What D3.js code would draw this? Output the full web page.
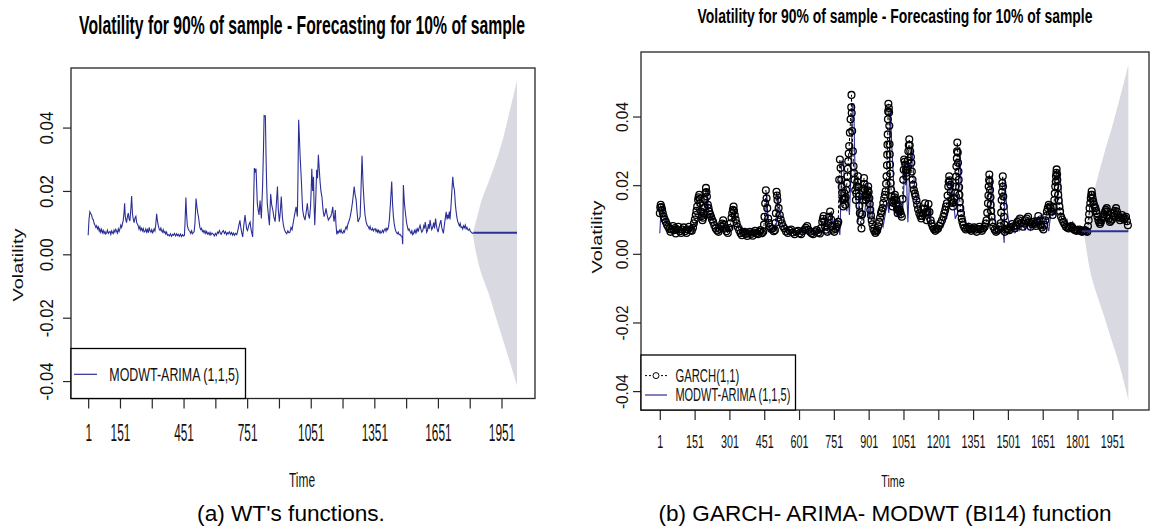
<!DOCTYPE html>
<html><head><meta charset="utf-8">
<script src="https://cdn.jsdelivr.net/npm/d3@7"></script>
<style>body{margin:0;background:#fff}svg{display:block}</style>
</head><body>
<svg id="c" width="1156" height="531"></svg>
<script>
// ---------------- data ----------------
const titleText = "Volatility for 90% of sample - Forecasting for 10% of sample";
const xTicks = [1,151,301,451,601,751,901,1051,1201,1351,1501,1651,1801,1951];
const leftXLabels = ["1","151","","451","","751","","1051","","1351","","1651","","1951"];
const rightXLabels = ["1","151","301","451","601","751","901","1051","1201","1351","1501","1651","1801","1951"];
const yTicks = [-0.04,-0.02,0,0.02,0.04];
const yLabels = ["-0.04","-0.02","0.00","0.02","0.04"];
const xDomain = [-80, 2109];
const yDomain = [-0.0455, 0.0588];

// MODWT-ARIMA(1,1,5) fitted volatility [time, value]
const modwtPoints = [[1,.006],[5,.011],[9,.0134],[13,.0128],[17,.0125],[21,.0112],[25,.011],[29,.0098],[33,.0092],[37,.0085],[41,.009],[45,.008],[49,.0086],[53,.0074],[56,.008],[60,.007],[64,.0079],[68,.0068],[72,.0075],[76,.0066],[80,.0072],[84,.0064],[88,.0068],[92,.0076],[96,.0066],[100,.007],[104,.0072],[108,.0063],[112,.0074],[116,.0068],[119,.0065],[123,.0076],[127,.007],[131,.0079],[135,.0073],[139,.0067],[143,.008],[147,.0072],[151,.008],[155,.0092],[159,.0085],[163,.0098],[166,.0105],[170,.013],[173,.0161],[176,.012],[179,.0108],[182,.01],[186,.0118],[190,.013],[194,.0112],[198,.0105],[202,.014],[206,.0184],[210,.0128],[214,.011],[218,.01],[222,.0115],[226,.012],[230,.01],[234,.0095],[237,.009],[241,.008],[245,.0088],[249,.0076],[253,.0082],[257,.0074],[261,.0081],[265,.007],[269,.0072],[273,.008],[277,.007],[281,.0078],[285,.0068],[289,.0085],[293,.0074],[297,.007],[301,.0078],[305,.0068],[308,.0072],[312,.008],[316,.0074],[320,.0095],[324,.0128],[328,.0105],[332,.009],[336,.008],[340,.0076],[344,.0083],[347,.0075],[351,.007],[355,.0078],[359,.0068],[363,.0072],[367,.0064],[371,.007],[375,.006],[379,.0062],[384,.0058],[389,.0065],[394,.0057],[399,.0063],[403,.006],[408,.0066],[413,.0058],[418,.0065],[422,.0059],[426,.0063],[431,.0057],[436,.0064],[441,.0056],[446,.0062],[450,.0058],[455,.006],[458,.01],[462,.0179],[465,.013],[469,.009],[473,.008],[477,.0075],[481,.0072],[485,.0066],[489,.0074],[493,.0065],[497,.0068],[501,.0072],[505,.01],[510,.0176],[514,.015],[518,.013],[521,.012],[525,.01],[528,.0085],[532,.0078],[536,.0082],[540,.0072],[544,.0075],[548,.0068],[552,.0074],[556,.0066],[560,.0072],[564,.0064],[568,.0068],[572,.0062],[576,.0069],[580,.0061],[585,.0067],[591,.0064],[596,.0058],[601,.0066],[606,.006],[611,.007],[615,.0066],[620,.0075],[624,.0068],[628,.0063],[633,.007],[639,.0075],[644,.0066],[649,.0072],[654,.0062],[658,.0068],[662,.0065],[667,.0071],[672,.0063],[677,.0069],[682,.0061],[686,.0067],[691,.006],[696,.0066],[702,.0062],[707,.0075],[712,.0092],[717,.0107],[721,.0085],[725,.007],[730,.0055],[735,.009],[741,.0124],[745,.01],[749,.008],[753,.0075],[758,.009],[762,.0098],[765,.0102],[769,.008],[773,.0068],[777,.0055],[781,.015],[785,.0272],[789,.0262],[793,.027],[799,.016],[803,.014],[807,.0124],[812,.017],[818,.0113],[824,.0219],[828,.033],[831,.0438],[837,.0437],[840,.0314],[843,.022],[846,.016],[851,.0125],[856,.0092],[862,.019],[867,.0155],[872,.014],[877,.0118],[883,.0103],[888,.015],[894,.0214],[898,.014],[903,.0103],[908,.014],[912,.0182],[917,.012],[922,.0092],[927,.0078],[932,.007],[938,.0065],[943,.0074],[948,.0068],[953,.007],[958,.0085],[963,.0078],[969,.0102],[975,.0125],[982,.015],[988,.0119],[991,.025],[994,.0425],[998,.036],[1001,.0309],[1007,.023],[1010,.018],[1013,.014],[1018,.012],[1024,.0108],[1030,.0135],[1035,.0161],[1040,.0125],[1045,.0113],[1050,.015],[1053,.02],[1056,.027],[1060,.02],[1064,.0245],[1067,.015],[1070,.0092],[1075,.018],[1079,.0267],[1083,.024],[1087,.0314],[1091,.027],[1095,.023],[1099,.02],[1104,.018],[1109,.014],[1114,.0119],[1119,.013],[1123,.0145],[1128,.0125],[1134,.0108],[1140,.0115],[1145,.0119],[1150,.013],[1155,.015],[1158,.012],[1161,.0103],[1164,.012],[1167,.014],[1170,.0095],[1174,.0063],[1178,.0072],[1182,.0068],[1186,.0076],[1190,.007],[1194,.0078],[1198,.0068],[1202,.0066],[1206,.0074],[1210,.007],[1214,.008],[1218,.0087],[1222,.008],[1226,.0095],[1230,.0102],[1236,.0115],[1243,.014],[1249,.017],[1256,.0214],[1260,.019],[1265,.0172],[1270,.013],[1274,.0102],[1279,.011],[1284,.0119],[1288,.02],[1293,.0311],[1298,.022],[1303,.0161],[1307,.0125],[1312,.0103],[1317,.0092],[1323,.0087],[1327,.008],[1331,.0088],[1335,.0078],[1339,.0076],[1343,.0082],[1347,.0074],[1351,.0079],[1355,.0081],[1359,.0072],[1363,.0078],[1366,.007],[1370,.0076],[1374,.0068],[1378,.0074],[1382,.0067],[1386,.007],[1390,.0076],[1394,.0069],[1398,.0077],[1402,.0081],[1406,.0073],[1410,.0082],[1414,.0078],[1418,.0087],[1422,.011],[1427,.016],[1433,.023],[1437,.016],[1441,.0119],[1445,.0095],[1449,.0081],[1453,.0072],[1456,.0068],[1460,.0065],[1464,.007],[1468,.0062],[1473,.0063],[1477,.0058],[1482,.0057],[1485,.0032],[1488,.0219],[1493,.016],[1498,.0129],[1503,.01],[1507,.0087],[1511,.0076],[1515,.008],[1520,.0071],[1524,.0066],[1528,.0074],[1532,.0062],[1536,.0066],[1540,.0075],[1544,.0068],[1548,.0078],[1551,.007],[1555,.008],[1559,.0074],[1563,.0085],[1567,.0092],[1571,.0078],[1575,.007],[1580,.0076],[1584,.009],[1588,.0082],[1591,.0102],[1595,.0085],[1598,.007],[1602,.0076],[1606,.0095],[1610,.008],[1614,.0108],[1618,.009],[1622,.0078],[1627,.0087],[1631,.01],[1635,.0082],[1640,.0113],[1644,.009],[1648,.0078],[1652,.007],[1656,.0085],[1660,.0096],[1665,.0108],[1669,.0085],[1673,.0075],[1677,.0066],[1681,.009],[1686,.0115],[1690,.0134],[1694,.011],[1698,.0125],[1701,.0113],[1705,.0135],[1708,.011],[1712,.0145],[1716,.019],[1721,.0245],[1725,.0215],[1729,.0203],[1733,.016],[1737,.0134],[1741,.0115],[1744,.0105],[1748,.0097],[1752,.009],[1756,.0098],[1760,.0085],[1764,.0087],[1768,.008],[1772,.009],[1776,.0084],[1780,.0092],[1784,.008],[1788,.0085],[1792,.0078],[1795,.0076],[1800,.008],[1804,.0072],[1808,.007],[1811,.0068],[1815,.0066],[1819,.0068]];

// point forecast
const forecastLeft = [[1819,0.0068],[2024,0.0068]];
const forecastRight = [[1819,0.0066],[2020,0.0066]];

// forecast interval band
const bandTimeLeft  = [1815,1836,1853,1888,1923,1958,1993,2024];
const bandUpperLeft = [0.0064,0.0118,0.0161,0.0225,0.029,0.0365,0.0462,0.0548];
const bandLowerLeft = [0.0064,-0.0011,-0.0055,-0.0119,-0.0195,-0.027,-0.0345,-0.0415];
const bandTimeRight  = [1829,1853,1885,1917,1948,1980,2020];
const bandUpperRight = [0.006,0.0127,0.0215,0.0295,0.0365,0.0445,0.0551];
const bandLowerRight = [0.006,-0.0042,-0.012,-0.0185,-0.0252,-0.032,-0.0426];

// GARCH(1,1) volatility [time, value]
const garchPoints = [[1,.0118],[3,.0135],[5,.0143],[8,.0136],[11,.0128],[14,.0118],[18,.0108],[22,.01],[27,.0093],[32,.0085],[37,.0079],[42,.0072],[47,.0064],[52,.0071],[58,.0081],[63,.0069],[67,.0075],[70,.0059],[75,.0071],[81,.0079],[87,.0066],[93,.0061],[98,.0071],[104,.0077],[110,.0066],[116,.0061],[121,.0071],[127,.0079],[133,.0069],[139,.0067],[144,.0076],[148,.0089],[152,.01],[156,.0113],[159,.0125],[162,.0138],[166,.0157],[168,.0165],[171,.0172],[173,.016],[175,.0147],[179,.0123],[182,.011],[185,.0098],[188,.0105],[191,.0118],[193,.0135],[195,.0157],[198,.0178],[200,.0192],[202,.018],[204,.0167],[208,.0143],[211,.0133],[214,.0123],[218,.0115],[222,.0108],[226,.01],[231,.0093],[236,.0083],[242,.0074],[248,.0068],[254,.0064],[260,.0072],[266,.0079],[270,.0088],[274,.0098],[278,.0085],[283,.0074],[288,.0066],[294,.0061],[300,.0075],[306,.0089],[310,.0105],[313,.0118],[316,.0128],[319,.0138],[321,.0125],[324,.0113],[328,.01],[332,.0089],[337,.0078],[343,.0069],[349,.006],[355,.0054],[360,.0062],[366,.0064],[372,.0058],[378,.0052],[383,.006],[389,.0064],[395,.0058],[401,.0053],[406,.0062],[412,.0067],[418,.006],[424,.0057],[430,.0064],[435,.0069],[441,.006],[447,.0064],[450,.0085],[452,.0108],[455,.0147],[458,.0185],[461,.0162],[464,.0133],[468,.0103],[471,.009],[475,.0079],[481,.0072],[487,.0074],[492,.0066],[497,.0069],[499,.009],[501,.0118],[504,.0181],[506,.017],[508,.0157],[513,.0133],[518,.0113],[522,.01],[527,.0089],[532,.008],[538,.0074],[545,.0065],[553,.0061],[560,.0068],[567,.0071],[574,.0062],[582,.0057],[589,.0064],[596,.0067],[603,.006],[610,.0057],[617,.0066],[625,.0071],[630,.0076],[636,.0081],[642,.007],[648,.0064],[655,.006],[662,.0057],[670,.0065],[677,.0069],[684,.0062],[691,.0059],[696,.0075],[701,.0093],[704,.0102],[707,.011],[710,.0095],[714,.0079],[718,.007],[723,.0064],[727,.009],[730,.0108],[735,.0123],[739,.01],[743,.0079],[748,.007],[753,.0064],[758,.0072],[763,.0079],[767,.0086],[770,.0093],[774,.0216],[777,.0275],[780,.025],[783,.0216],[785,.0195],[787,.0177],[789,.0158],[791,.0138],[794,.016],[796,.0177],[798,.016],[800,.0143],[802,.0165],[804,.0186],[807,.0205],[809,.0226],[811,.0248],[813,.027],[815,.0292],[817,.0314],[820,.0353],[823,.0392],[826,.0427],[827,.0463],[828,.041],[830,.0358],[833,.0299],[836,.0255],[838,.0235],[840,.0216],[843,.0185],[846,.0157],[848,.0176],[850,.0196],[852,.021],[855,.0226],[857,.0195],[859,.0167],[861,.014],[863,.0118],[866,.0095],[870,.0074],[873,.0115],[876,.0157],[878,.019],[881,.0221],[883,.0203],[885,.0186],[887,.017],[889,.0157],[892,.0165],[895,.0172],[897,.0185],[899,.0196],[901,.018],[904,.0162],[906,.0145],[908,.0128],[911,.0112],[914,.0098],[917,.0086],[921,.0074],[925,.0067],[930,.0061],[934,.0065],[938,.0069],[942,.008],[947,.0093],[950,.0105],[954,.0118],[957,.0125],[961,.0133],[964,.0148],[968,.0162],[971,.0172],[974,.0182],[976,.0204],[978,.0226],[980,.0258],[981,.0289],[982,.0318],[983,.0348],[984,.0392],[985,.0415],[986,.0437],[988,.0425],[989,.0412],[990,.0373],[991,.0319],[992,.029],[993,.026],[995,.0233],[996,.0206],[998,.0186],[1000,.0167],[1002,.0152],[1004,.0138],[1007,.0148],[1010,.0157],[1012,.0165],[1014,.0172],[1017,.0158],[1020,.0143],[1023,.013],[1026,.0118],[1028,.0128],[1031,.0138],[1034,.013],[1037,.0123],[1040,.0115],[1044,.0108],[1047,.016],[1050,.0216],[1052,.0245],[1054,.0275],[1056,.0268],[1059,.026],[1061,.0243],[1063,.0226],[1065,.0236],[1067,.0245],[1070,.0272],[1072,.0299],[1074,.0316],[1076,.0334],[1078,.0316],[1080,.0299],[1083,.0282],[1085,.0265],[1087,.024],[1090,.0216],[1093,.0201],[1096,.0186],[1100,.0176],[1103,.0167],[1107,.0155],[1110,.0143],[1114,.013],[1119,.0118],[1124,.011],[1128,.0103],[1132,.011],[1136,.0118],[1140,.0132],[1144,.0147],[1147,.0122],[1151,.0098],[1155,.0122],[1159,.0145],[1163,.0122],[1168,.0098],[1172,.0088],[1177,.0079],[1182,.0072],[1188,.0067],[1194,.0071],[1200,.0074],[1205,.0082],[1211,.0089],[1217,.0098],[1223,.0108],[1227,.0118],[1231,.0128],[1234,.0138],[1238,.0147],[1241,.017],[1244,.0196],[1246,.021],[1248,.0226],[1250,.0214],[1253,.0201],[1255,.018],[1258,.0157],[1261,.0148],[1264,.0138],[1267,.015],[1270,.0162],[1273,.0178],[1276,.0196],[1278,.0225],[1279,.0255],[1281,.0278],[1282,.0299],[1283,.0324],[1285,.0295],[1286,.0265],[1288,.024],[1289,.0216],[1291,.0194],[1292,.0172],[1294,.0152],[1296,.0133],[1299,.0118],[1302,.0103],[1305,.0093],[1309,.0083],[1314,.0076],[1320,.0071],[1326,.0075],[1332,.0079],[1337,.0072],[1343,.0067],[1349,.0073],[1355,.0077],[1360,.007],[1366,.0064],[1372,.0072],[1378,.0079],[1383,.0072],[1389,.0067],[1395,.0074],[1401,.0079],[1405,.0088],[1409,.0098],[1412,.012],[1415,.0147],[1417,.017],[1418,.0196],[1420,.0215],[1421,.0231],[1423,.021],[1424,.0186],[1426,.0165],[1427,.0143],[1429,.0125],[1431,.0108],[1434,.0092],[1438,.0079],[1444,.007],[1450,.0064],[1455,.0068],[1461,.0071],[1466,.008],[1470,.0089],[1472,.012],[1474,.0157],[1476,.018],[1477,.0206],[1479,.0226],[1480,.0196],[1481,.0167],[1483,.0138],[1484,.0108],[1486,.0085],[1488,.0064],[1492,.007],[1496,.0074],[1501,.0071],[1507,.0069],[1513,.0078],[1519,.0087],[1525,.008],[1530,.0074],[1536,.0083],[1542,.0093],[1548,.0098],[1553,.0103],[1559,.009],[1565,.0079],[1570,.0088],[1576,.0098],[1582,.0103],[1588,.0108],[1593,.0092],[1599,.0079],[1605,.0086],[1611,.0093],[1616,.0087],[1622,.0081],[1627,.0095],[1632,.011],[1637,.0096],[1642,.0083],[1648,.0077],[1654,.0071],[1658,.0085],[1662,.0098],[1666,.011],[1669,.0123],[1673,.0133],[1677,.0143],[1681,.0138],[1685,.0133],[1690,.0123],[1694,.0113],[1698,.0135],[1701,.0157],[1703,.0176],[1705,.0196],[1707,.021],[1708,.0226],[1710,.0236],[1711,.0246],[1713,.0231],[1714,.0216],[1716,.0194],[1718,.0172],[1720,.0155],[1723,.0138],[1726,.0123],[1730,.0108],[1735,.01],[1740,.0093],[1745,.0086],[1751,.0079],[1757,.0076],[1763,.0074],[1768,.0078],[1774,.0081],[1780,.0076],[1786,.0071],[1791,.0069],[1797,.0067],[1803,.0069],[1809,.0071],[1814,.0067],[1820,.0064],[1826,.0066],[1832,.0069],[1837,.0066],[1843,.0064],[1846,.008],[1849,.0098],[1851,.0115],[1853,.0133],[1856,.0148],[1858,.0162],[1860,.0172],[1862,.0182],[1864,.0172],[1866,.0162],[1869,.0152],[1872,.0143],[1875,.0138],[1878,.0133],[1881,.0125],[1884,.0118],[1887,.0108],[1891,.0098],[1894,.0092],[1898,.0087],[1901,.0092],[1905,.0098],[1908,.0103],[1912,.0108],[1916,.0115],[1920,.0123],[1923,.0128],[1927,.0133],[1930,.0123],[1934,.0113],[1937,.0103],[1941,.0093],[1945,.0096],[1950,.01],[1954,.011],[1958,.0118],[1962,.0125],[1967,.0133],[1971,.0123],[1975,.0113],[1980,.0105],[1984,.0098],[1988,.0105],[1993,.0113],[1997,.0106],[2001,.01],[2005,.0104],[2010,.0108],[2014,.0095],[2018,.0083]];

const legendLeft = ["MODWT-ARIMA (1,1,5)"];
const legendRight = ["GARCH(1,1)", "MODWT-ARIMA (1,1,5)"];
const captions = ["(a) WT's functions.", "(b) GARCH- ARIMA- MODWT (BI14) function"];

// ---------------- drawing ----------------
const NARROW = "'Liberation Sans Narrow','Arial Narrow','Liberation Sans',Arial,sans-serif";
const SANS = "'Liberation Sans',Arial,Helvetica,sans-serif";
const BLUE = "#2c2f96";
const BAND = "#d9dae1";
const FRAME = "#262626";
const svg = d3.select("#c");

// squeeze a text horizontally (along its baseline) to a target length using a real transform
function squeeze(node, len, pre) {
  const w = node.getComputedTextLength();
  const sx = w > 0 ? len / w : 1;
  d3.select(node).attr("transform", `${pre} scale(${sx.toFixed(4)},1)`);
}

function txt(g, x, y, s, o) {
  const t = g.append("text").attr("x", 0).attr("y", 0).text(s)
    .attr("font-family", o.family || SANS).attr("font-size", o.size)
    .attr("font-weight", o.weight || "normal").attr("fill", o.fill || "#111")
    .attr("text-anchor", o.anchor || "middle");
  const pre = `translate(${x},${y})` + (o.rotate ? " rotate(-90)" : "");
  if (o.len) squeeze(t.node(), o.len, pre); else t.attr("transform", pre);
  return t;
}

function panel(cfg, id) {
  const g = svg.append("g");
  const x = d3.scaleLinear().domain(xDomain).range([cfg.x0, cfg.x1]);
  const y = d3.scaleLinear().domain(yDomain).range([cfg.y1, cfg.y0]);

  g.append("clipPath").attr("id", "clip" + id).append("rect")
    .attr("x", cfg.x0).attr("y", cfg.y0).attr("width", cfg.x1 - cfg.x0).attr("height", cfg.y1 - cfg.y0);
  const plot = g.append("g").attr("clip-path", `url(#clip${id})`);

  // forecast band
  const band = cfg.bandT.map((t, i) => ({t, hi: cfg.bandHi[i], lo: cfg.bandLo[i]}));
  plot.append("path").datum(band)
    .attr("d", d3.area().x(d => x(d.t)).y0(d => y(d.lo)).y1(d => y(d.hi)).curve(d3.curveMonotoneX))
    .attr("fill", BAND);

  const line = d3.line().x(d => x(d[0])).y(d => y(d[1]));

  // MODWT line
  plot.append("path").datum(modwtPoints).attr("d", line)
    .attr("fill", "none").attr("stroke", BLUE).attr("stroke-width", 1.1);

  if (cfg.garch) {
    plot.append("path").datum(garchPoints).attr("d", line)
      .attr("fill", "none").attr("stroke", "#000").attr("stroke-width", 1).attr("stroke-dasharray", "3,2");
    plot.append("g").selectAll("circle").data(garchPoints).join("circle")
      .attr("cx", d => x(d[0])).attr("cy", d => y(d[1])).attr("r", 3.4)
      .attr("fill", "none").attr("stroke", "#000").attr("stroke-width", 1.3);
  }

  // forecast line
  plot.append("path").datum(cfg.forecast).attr("d", line)
    .attr("fill", "none").attr("stroke", BLUE).attr("stroke-width", 2);

  // x axis
  const gx = g.append("g").attr("transform", `translate(0,${cfg.y1})`)
    .call(d3.axisBottom(x).tickValues(xTicks).tickFormat((d, i) => cfg.xLabels[i]).tickSize(10).tickSizeOuter(0));
  gx.select(".domain").remove();
  gx.selectAll(".tick line").attr("stroke", FRAME).attr("stroke-width", 1.2);
  gx.selectAll(".tick text").attr("y", 0).attr("dy", 0)
    .attr("font-family", NARROW).attr("font-size", cfg.xLabelSize).attr("fill", "#111")
    .each(function () {
      const s = this.textContent;
      const pre = `translate(0,${cfg.xLabelBase - cfg.y1})`;
      if (s) squeeze(this, s.length * cfg.xCharW, pre); else d3.select(this).attr("transform", pre);
    });

  // y axis
  const gy = g.append("g").attr("transform", `translate(${cfg.x0},0)`)
    .call(d3.axisLeft(y).tickValues(yTicks).tickFormat((d, i) => yLabels[i]).tickSize(8).tickSizeOuter(0));
  gy.select(".domain").remove();
  gy.selectAll(".tick line").attr("stroke", FRAME).attr("stroke-width", 1.2);
  gy.selectAll(".tick text").attr("x", 0).attr("y", 0).attr("dy", "0.36em")
    .attr("text-anchor", "middle").attr("font-family", SANS).attr("font-size", cfg.yLabelSize).attr("fill", "#111")
    .each(function () {
      const s = this.textContent;
      squeeze(this, s.startsWith("-") ? cfg.yLen + 5 : cfg.yLen, `translate(${cfg.yLabelX - cfg.x0},0) rotate(-90)`);
    });

  // frame
  g.append("rect").attr("x", cfg.x0).attr("y", cfg.y0).attr("width", cfg.x1 - cfg.x0).attr("height", cfg.y1 - cfg.y0)
    .attr("fill", "none").attr("stroke", FRAME).attr("stroke-width", 1.3);

  // legend
  const L = cfg.legend;
  g.append("rect").attr("x", cfg.x0).attr("y", L.y0).attr("width", L.x1 - cfg.x0).attr("height", cfg.y1 - L.y0)
    .attr("fill", "#fff").attr("stroke", "#000").attr("stroke-width", 1.3);
  L.items.forEach((name, i) => {
    const yy = L.rows[i];
    if (name.startsWith("GARCH")) {
      g.append("line").attr("x1", L.sx0).attr("x2", L.sx1).attr("y1", yy).attr("y2", yy)
        .attr("stroke", "#000").attr("stroke-width", 1).attr("stroke-dasharray", "2,2");
      g.append("circle").attr("cx", (L.sx0 + L.sx1) / 2).attr("cy", yy).attr("r", 3)
        .attr("fill", "#fff").attr("stroke", "#000").attr("stroke-width", 1);
    } else {
      g.append("line").attr("x1", L.sx0).attr("x2", L.sx1).attr("y1", yy).attr("y2", yy)
        .attr("stroke", BLUE).attr("stroke-width", 1.2);
    }
    txt(g, L.tx, yy + L.size * 0.36, name, {family: NARROW, size: L.size, anchor: "start", len: L.lens[i]});
  });

  // titles and labels
  txt(g, cfg.titleX, cfg.titleY, titleText, {family: NARROW, size: cfg.titleSize, weight: "bold", len: cfg.titleLen, fill: "#000"});
  txt(g, cfg.timeX, cfg.timeY, "Time", {family: NARROW, size: cfg.timeSize, len: cfg.timeLen});
  txt(g, cfg.volX, cfg.volY, "Volatility", {family: SANS, size: cfg.volSize, len: 73, rotate: true});
  txt(g, cfg.capX, cfg.capY, cfg.caption, {family: SANS, size: 22.5, len: cfg.capLen, fill: "#000"});
}

panel({
  x0: 71, x1: 535, y0: 68, y1: 398.5,
  bandT: bandTimeLeft, bandHi: bandUpperLeft, bandLo: bandLowerLeft,
  forecast: forecastLeft, garch: false,
  xLabels: leftXLabels, xLabelBase: 441, xLabelSize: 23, xCharW: 6.6,
  yLabelX: 46.5, yLabelSize: 18, yLen: 33,
  legend: {y0: 348.5, x1: 245.5, items: legendLeft, rows: [374.3], sx0: 74, sx1: 97, tx: 109.3, size: 19, lens: [130]},
  titleX: 302, titleY: 34, titleSize: 26, titleLen: 446,
  timeX: 302, timeY: 487, timeSize: 20, timeLen: 26,
  volX: 18 + 5, volY: 265, volSize: 15,
  capX: 291, capY: 521, caption: captions[0], capLen: 188
}, "L");

panel({
  x0: 641, x1: 1149, y0: 52, y1: 410,
  bandT: bandTimeRight, bandHi: bandUpperRight, bandLo: bandLowerRight,
  forecast: forecastRight, garch: true,
  xLabels: rightXLabels, xLabelBase: 448, xLabelSize: 19, xCharW: 6.0,
  yLabelX: 622, yLabelSize: 17, yLen: 30,
  legend: {y0: 355, x1: 795.5, items: legendRight, rows: [375.6, 395], sx0: 645, sx1: 667, tx: 675.4, size: 18, lens: [64, 115]},
  titleX: 895, titleY: 23, titleSize: 20, titleLen: 395,
  timeX: 893, timeY: 486.7, timeSize: 17, timeLen: 23.3,
  volX: 597 + 5, volY: 237, volSize: 15,
  capX: 885, capY: 521, caption: captions[1], capLen: 453
}, "R");
</script>
</body></html>
